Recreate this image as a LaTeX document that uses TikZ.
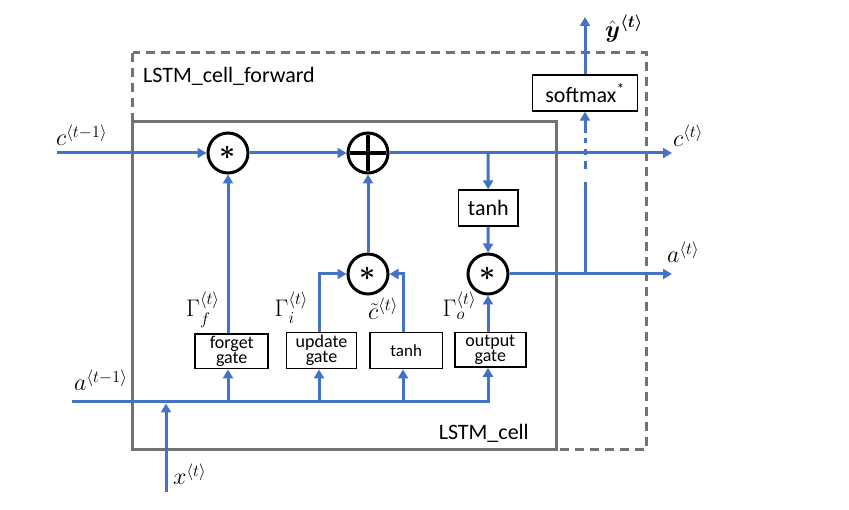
\RequirePackage{fix-cm}
\documentclass[tikz,border=0pt]{standalone}
\usepackage{amsmath}
\usepackage{fontspec}
\setmainfont{Carlito}
\usetikzlibrary{arrows.meta}

\definecolor{wireblue}{HTML}{4472C4}
\definecolor{framegray}{HTML}{767171}

\begin{document}
\begin{tikzpicture}[x=1pt,y=-1pt,
  wire/.style={draw=wireblue, line width=3pt, -{Triangle[length=9pt,width=10pt]}},
  framebox/.style={draw=framegray, line width=3pt, line join=miter},
  opnode/.style={circle, draw=black, line width=3pt, fill=white, minimum size=40pt, inner sep=0pt},
  gatebox/.style={draw=black, line width=1.8pt, fill=white, inner sep=0pt, align=center,
    font=\fontsize{18}{13.5}\selectfont},
  bigbox/.style={draw=black, line width=1.8pt, fill=white, inner sep=0pt,
    font=\fontsize{22}{26}\selectfont},
  txt/.style={inner sep=0pt, anchor=base west, font=\fontsize{22}{26}\selectfont},
  mathlbl/.style={inner sep=0pt, anchor=base west, font=\fontsize{24}{28}\selectfont},
]
\useasboundingbox (0,0) rectangle (849,510);

% outer (dashed) and inner (solid) frames
\draw[framebox, dash pattern=on 9pt off 6pt] (132.7,52.7) rectangle (646.7,450);
\draw[framebox] (132.7,121.7) rectangle (556,450);

% free ends and junctions
\coordinate (cin)  at (57,153);
\coordinate (cout) at (672,153);
\coordinate (aout) at (672,274);
\coordinate (ain)  at (72,402);
\coordinate (xin)  at (166,492);
\coordinate (xb)   at (166,403.5);
\coordinate (yout) at (585,17);
\coordinate (ctap) at (488,153);
\coordinate (atap) at (585,274);
\coordinate (fb)   at (228,402);
\coordinate (ub)   at (319,402);
\coordinate (tb)   at (403,402);

% pointwise operations
\node[opnode] (fmul) at (228,153) {\fontsize{28}{28}\selectfont$\boldsymbol{\ast}$};
\node[opnode, path picture={
    \draw[line width=3.5pt]
      ([xshift=-18pt]path picture bounding box.center) -- ([xshift=18pt]path picture bounding box.center)
      ([yshift=-18pt]path picture bounding box.center) -- ([yshift=18pt]path picture bounding box.center);
  }] (add) at (368,153) {};
\node[opnode] (imul) at (368,274) {\fontsize{28}{28}\selectfont$\boldsymbol{\ast}$};
\node[opnode] (omul) at (488,274) {\fontsize{28}{28}\selectfont$\boldsymbol{\ast}$};

% gate boxes
\node[gatebox, minimum width=73pt, minimum height=34.5pt] (fgate) at (231.7,351.3) {forget\\gate};
\node[gatebox, minimum width=70pt, minimum height=36pt] (ugate) at (321.5,350.5) {update\\gate};
\node[gatebox, minimum width=72.5pt, minimum height=36pt, font=\fontsize{17}{17}\selectfont] (tgate) at (406.2,350.5) {tanh};
\node[gatebox, minimum width=71pt, minimum height=34.5pt] (ogate) at (490.3,349.7) {output\\gate};
\node[bigbox, minimum width=59.5pt, minimum height=35.5pt] (tanhU) at (488.3,208) {tanh};
\node[bigbox, minimum width=105pt, minimum height=36pt] (smax) at (585,92.8) {softmax\textsuperscript{*}};

% cell state path
\draw[wire] (cin) -- (fmul);
\draw[wire] (fmul) -- (add);
\draw[wire] (add) -- (cout);
\draw[wire] (ctap) -- (tanhU);
\draw[wire] (tanhU) -- (omul);
\draw[wire] (omul) -- (aout);

% gate outputs into the operations
\draw[wire] (fb |- fgate.north) -- (fmul);
\draw[wire] (imul) -- (add);
\draw[wire] (ub |- ugate.north) |- (imul);
\draw[wire] (tb |- tgate.north) |- (imul);
\draw[wire] (ogate.north -| omul) -- (omul);

% input bus
\draw[wire] (ain) -| (ogate.south -| omul);
\draw[wire] (fb) -- (fb |- fgate.south);
\draw[wire] (ub) -- (ub |- ugate.south);
\draw[wire] (tb) -- (tb |- tgate.south);
\draw[wire] (xin) -- (xb);

% prediction branch
\draw[wire, dash pattern=on 92pt off 13pt on 8pt off 6pt on 6pt off 6pt on 5pt off 5pt on 40pt] (atap) -- (smax);
\draw[wire] (smax) -- (yout);

% labels
\node[txt] (tforward) at (143,83) {LSTM\_cell\_forward};
\node[txt, anchor=base east] (tcell) at (529,439) {LSTM\_cell};
\node[mathlbl] (lcprev) at (56,146) {$c^{\langle t-1\rangle}$};
\node[mathlbl] (lcnext) at (673,146.7) {$c^{\langle t\rangle}$};
\node[mathlbl] (laout) at (667,263) {$a^{\langle t\rangle}$};
\node[mathlbl] (lyhat) at (605,38) {$\hat{\boldsymbol{y}}^{\boldsymbol{\langle t\rangle}}$};
\node[mathlbl] (laprev) at (74,391) {$a^{\langle t-1\rangle}$};
\node[mathlbl] (lx) at (173,485) {$x^{\langle t\rangle}$};
\node[mathlbl] (lgf) at (186,317) {$\Gamma_f^{\langle t\rangle}$};
\node[mathlbl] (lgi) at (274.5,317) {$\Gamma_i^{\langle t\rangle}$};
\node[mathlbl] (lct) at (368,319.5) {$\tilde{c}^{\langle t\rangle}$};
\node[mathlbl] (lgo) at (442.5,317) {$\Gamma_o^{\langle t\rangle}$};
\end{tikzpicture}
\end{document}
